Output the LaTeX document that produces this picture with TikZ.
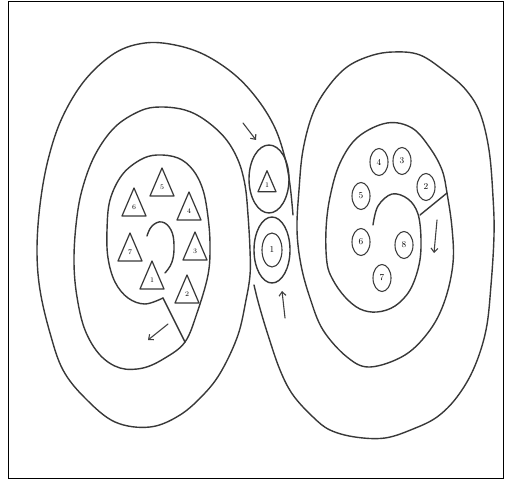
\documentclass[tikz,border=0pt]{standalone}
\usetikzlibrary{shapes.geometric,arrows.meta}
\begin{document}
\begin{tikzpicture}[x=1pt,y=-1pt,
  line/.style={draw=black!78,line width=1.4pt,line cap=round,line join=round},
  arr/.style={draw=black!75,line width=1.1pt,line cap=round,-{Straight Barb[length=4pt,width=7pt]}},
  ring/.style={ellipse,draw=black!78,line width=1.4pt,inner sep=0pt},
  num/.style={ellipse,draw=black!75,line width=1.1pt,inner sep=0pt,minimum width=18pt,minimum height=27pt,font=\small},
  pics/tri/.style={code={
    \draw[draw=black!78,line width=1.2pt,line join=round] (-12,13) -- (0,-15) -- (12,13) -- cycle;
    \node[inner sep=0pt,font=\scriptsize] (lab) at (0,4) {#1};
  }}
]
\useasboundingbox (0,0) rectangle (505,481);
\draw[black,line width=0.8pt] (8.5,1) rectangle (503.5,478);

% ---------- left spiral ----------
\coordinate (ls1) at (163,298);
\coordinate (ls2) at (185,342);
\draw[line] plot[smooth,tension=0.6] coordinates {
 (163,298) (145,304) (128,298) (115,282) (108,258) (107,230) (110,200) (122,175)
 (140,160) (157,155) (178,158) (193,170) (203,190) (208,217) (210,245) (208,275)
 (197,313) (185,342) (165,358) (143,368) (120,368) (100,355) (85,330) (77,297)
 (74,263) (76,225) (82,190) (95,155) (115,127) (140,111) (160,107) (185,110)
 (205,120) (225,138) (238,160) (245,185) (248,215) (250,250) (250,275) (246,300)
 (238,335) (222,370) (205,393) (180,415) (150,427) (115,422) (85,398) (63,370)
 (50,333) (40,290) (37,250) (40,205) (48,160) (62,118) (85,80) (115,53) (145,43)
 (175,45) (205,55) (235,75) (258,100) (275,128) (285,158) (290,185) (293,215)};
\draw[line] (ls1) -- (ls2);
\draw[line] plot[smooth,tension=0.7] coordinates {
 (147,236) (152,226) (162,222) (171,230) (174,245) (172,262) (165,273)};

% ---------- right spiral ----------
\coordinate (rs1) at (447,193);
\coordinate (rs2) at (420,215);
\draw[line] plot[smooth,tension=0.6] coordinates {
 (373,225) (378,206) (392,194) (408,199) (418,214) (421,240) (419,265) (410,290)
 (395,306) (377,312) (360,309) (345,297) (333,280) (327,263) (326,230) (330,197)
 (340,163) (358,137) (387,123) (412,128) (430,148) (442,170) (447,193) (452,228)
 (453,263) (445,300) (430,330) (405,355) (370,367) (347,357) (323,330) (310,298)
 (301,265) (297,230) (299,190) (303,150) (313,113) (328,87) (347,67) (370,56)
 (393,52) (420,55) (447,73) (466,90) (480,113) (489,150) (493,197) (494,235)
 (491,285) (486,330) (474,368) (457,397) (437,417) (413,429) (385,438) (355,437)
 (330,430) (313,417) (293,395) (280,370) (268,335) (259,305) (254,285)};
\draw[line] (rs1) -- (rs2);

% ---------- triangles (left) ----------
\pic (t5) at (162,183) {tri=5};
\pic (t6) at (134,203) {tri=6};
\pic (t4) at (189,207) {tri=4};
\pic (t7) at (130,248) {tri=7};
\pic (t3) at (195,247) {tri=3};
\pic (t1) at (152,276) {tri=1};
\pic (t2) at (187,290) {tri=2};

% ---------- numbered circles (right) ----------
\node[num] (c4) at (379,162) {4};
\node[num] (c3) at (402,161) {3};
\node[num] (c2) at (426,187) {2};
\node[num] (c5) at (361,196) {5};
\node[num] (c6) at (361,242) {6};
\node[num] (c8) at (404,245) {8};
\node[num] (c7) at (382,278) {7};

% ---------- middle circles ----------
\node[ring,minimum width=40pt,minimum height=68pt] (mtop) at (269,179) {};
\pic[scale=0.75] (mt) at (267,182) {tri=1};
\node[ring,minimum width=36pt,minimum height=66pt] (mbot) at (272,250) {};
\node[ring,line width=1.1pt,minimum width=20pt,minimum height=34pt,font=\small] (minner) at (272,250) {1};

% ---------- arrows ----------
\coordinate (a1s) at (243,123); \coordinate (a1e) at (256,140);
\coordinate (a2s) at (285,318); \coordinate (a2e) at (282,291);
\coordinate (a3s) at (168,324); \coordinate (a3e) at (148,340);
\coordinate (a4s) at (437,220); \coordinate (a4e) at (434,253);
\draw[arr] (a1s) -- (a1e);
\draw[arr] (a2s) -- (a2e);
\draw[arr] (a3s) -- (a3e);
\draw[arr] (a4s) -- (a4e);
\end{tikzpicture}
\end{document}
